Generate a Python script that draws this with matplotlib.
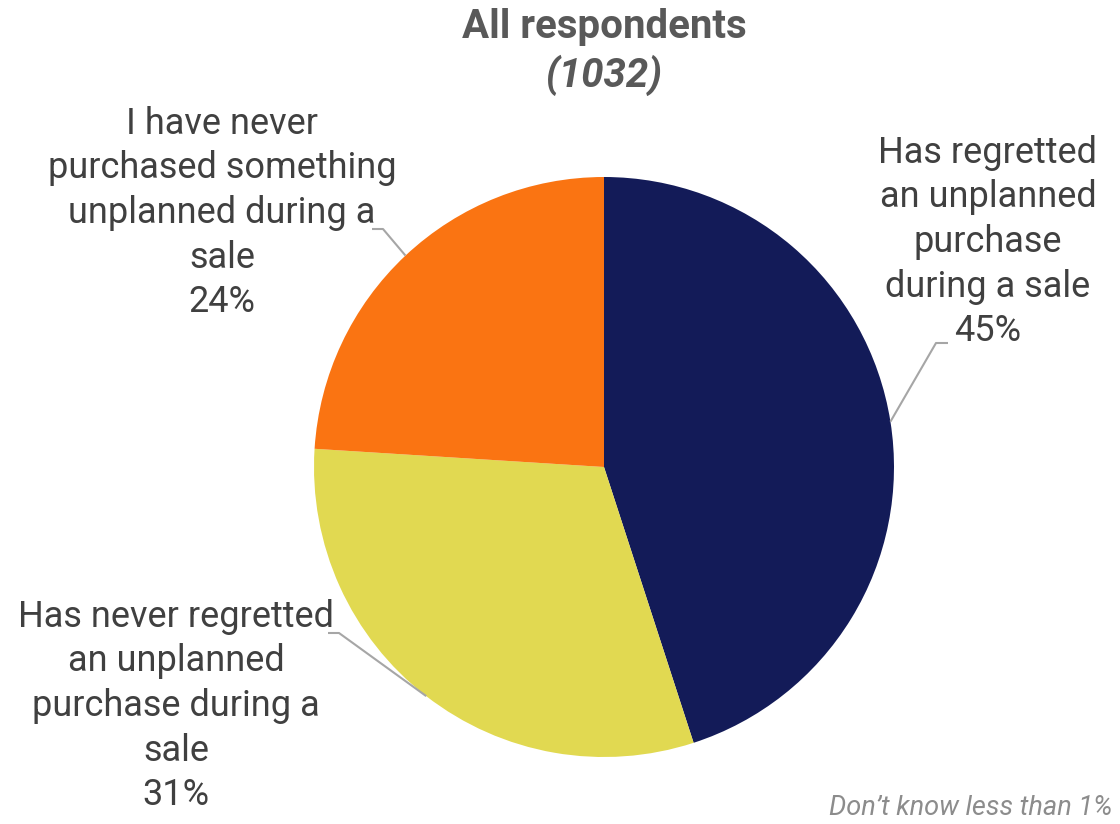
import matplotlib.pyplot as plt
import numpy as np

plt.rcParams['font.family'] = ['Roboto', 'DejaVu Sans']

# survey shares, clockwise from 12 o'clock
labels = [
    "Has regretted\nan unplanned\npurchase\nduring a sale",
    "Has never regretted\nan unplanned\npurchase during a\nsale",
    "I have never\npurchased something\nunplanned during a\nsale",
]
shares = [45, 31, 24]
colors = ["#131B58", "#E1D951", "#FA7412"]

# label centres and leader elbows (figure pixels, y up)
label_pos = [(988, 582), (176, 118), (222, 611)]
elbows = [((936, 481), (948, 481)), ((339, 191), (328, 191)), ((383, 595), (372, 595))]

fig = plt.figure(figsize=(11.2, 8.24), dpi=100)
ax = fig.add_axes([0, 0, 1, 1])

center = (604, 357)
radius = 290
wedges, _ = ax.pie(shares, colors=colors, startangle=90, counterclock=False,
                   center=center, radius=radius, frame=True)
ax.set_xlim(0, 1120)
ax.set_ylim(0, 824)
ax.set_aspect("equal")
ax.axis("off")

for w, lab, pos, (elb, stub), val in zip(wedges, labels, label_pos, elbows, shares):
    mid = np.deg2rad((w.theta1 + w.theta2) / 2)
    edge = (center[0] + radius * np.cos(mid), center[1] + radius * np.sin(mid))
    ax.plot([edge[0], elb[0], stub[0]], [edge[1], elb[1], stub[1]],
            color="#A6A6A6", lw=1.5, solid_capstyle="butt")
    ax.text(pos[0], pos[1], f"{lab}\n{val}%", ha="center", va="center",
            fontsize=26, color="#404040", linespacing=1.31)

ax.text(604, 797, "All respondents", ha="center", va="center",
        fontsize=29, fontweight="bold", color="#595959")
ax.text(604, 749, "(1032)", ha="center", va="center",
        fontsize=29, fontweight="bold", fontstyle="italic", color="#595959")
ax.text(1112, 16, "Don\u2019t know less than 1%", ha="right", va="center",
        fontsize=19.5, fontstyle="italic", color="#8C8C8C")

fig.savefig("out.png", dpi=100)
